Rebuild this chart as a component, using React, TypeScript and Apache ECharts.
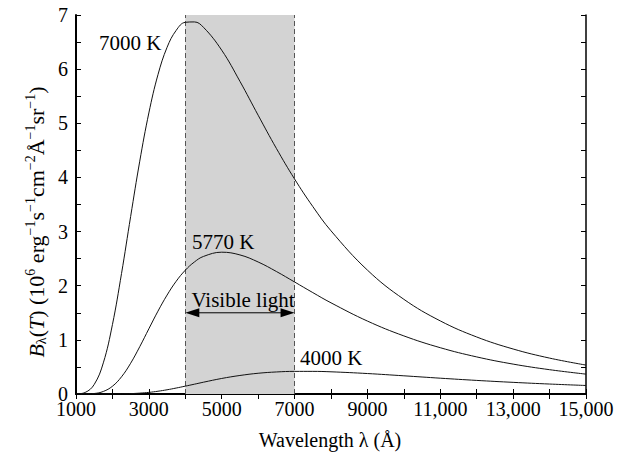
import React, { useEffect, useRef } from 'react';
import * as echarts from 'echarts';

// Wavelength samples (Å)
const wavelengths = [
  1000, 1250, 1500, 1750, 2000, 2250, 2500, 2750, 3000, 3250, 3500, 3750, 4000, 4250, 4500,
  5000, 5500, 6000, 6500, 7000, 7500, 8000, 9000, 10000, 11000, 12000, 13000, 14000, 15000,
];
// B_lambda(T) in 10^6 erg s^-1 cm^-2 Å^-1 sr^-1
const t7000 = [
  0.001, 0.028, 0.176, 0.575, 1.281, 2.227, 3.279, 4.3, 5.191, 5.897, 6.403, 6.716, 6.865, 6.872, 6.772,
  6.35, 5.775, 5.149, 4.537, 3.971, 3.463, 3.014, 2.288, 1.749, 1.35, 1.053, 0.831, 0.663, 0.534,
];
const t5770 = [
  0, 0.001, 0.009, 0.047, 0.143, 0.318, 0.568, 0.874, 1.204, 1.53, 1.827, 2.082, 2.286, 2.438, 2.541,
  2.619, 2.569, 2.438, 2.263, 2.069, 1.873, 1.684, 1.347, 1.073, 0.855, 0.685, 0.552, 0.449, 0.367,
];
const t4000 = [
  0, 0, 0, 0, 0.001, 0.002, 0.007, 0.016, 0.03, 0.051, 0.078, 0.11, 0.145, 0.181, 0.218,
  0.287, 0.342, 0.383, 0.407, 0.418, 0.418, 0.41, 0.378, 0.336, 0.292, 0.251, 0.215, 0.184, 0.157,
];
const visibleBand = [4000, 7000];
const arrowLevel = 1.5;
const xRange = [1000, 15000];
const yRange = [0, 7];

const FAM = '"Liberation Serif", "Times New Roman", Times, serif';
const font = (size: number, style = '') => `${style ? style + ' ' : ''}${size}px ${FAM}`;

export default function App() {
  const ref = useRef<HTMLDivElement>(null);

  useEffect(() => {
    if (!ref.current) return;
    const chart = echarts.init(ref.current, null, { renderer: 'svg' });

    const toPairs = (ys: number[]) => wavelengths.map((x, i) => [x, ys[i]]);
    const curve = (name: string, ys: number[]) => ({
      type: 'line',
      name,
      data: toPairs(ys),
      symbol: 'none',
      smooth: 0.4,
      z: 5,
      silent: true,
      lineStyle: { color: '#111', width: 1 },
    });

    const axisLineStyle = (w: number) => ({ show: true, lineStyle: { color: '#000', width: w } });
    const tick = { show: true, inside: true, length: 5, lineStyle: { color: '#000', width: 1 } };

    const xFmt = (v: number) => {
      const k = Math.round(v / 1000);
      if (k % 2 !== 1) return '';
      return k >= 10 ? `${k},000` : String(v);
    };
    const yFmt = (v: number) => (Math.abs(v - Math.round(v)) < 1e-9 ? String(Math.round(v)) : '');

    const option: any = {
      animation: false,
      backgroundColor: '#fff',
      grid: { left: 76, right: 37, top: 15, bottom: 64, containLabel: false },
      xAxis: [
        {
          type: 'value', min: xRange[0], max: xRange[1], interval: 1000, position: 'bottom',
          axisLine: axisLineStyle(2), axisTick: tick, splitLine: { show: false },
          axisLabel: { formatter: xFmt, color: '#000', fontFamily: FAM, fontSize: 20, lineHeight: 14, margin: 8 },
        },
        {
          type: 'value', min: xRange[0], max: xRange[1], interval: 1000, position: 'top',
          axisLine: axisLineStyle(1.5), axisTick: tick, splitLine: { show: false },
          axisLabel: { show: false },
        },
      ],
      yAxis: [
        {
          type: 'value', min: yRange[0], max: yRange[1], interval: 0.5, position: 'left',
          axisLine: axisLineStyle(2), axisTick: tick, splitLine: { show: false },
          axisLabel: { formatter: yFmt, color: '#000', fontFamily: FAM, fontSize: 20, lineHeight: 14, margin: 8 },
        },
        {
          type: 'value', min: yRange[0], max: yRange[1], interval: 0.5, position: 'right',
          axisLine: axisLineStyle(1.5), axisTick: tick, splitLine: { show: false },
          axisLabel: { show: false },
        },
      ],
      series: [
        {
          type: 'line',
          name: 'band',
          data: [[visibleBand[0], 0]],
          symbol: 'none',
          lineStyle: { opacity: 0 },
          z: 1,
          silent: true,
          markArea: {
            silent: true,
            itemStyle: { color: '#d3d3d3' },
            data: [[{ xAxis: visibleBand[0] }, { xAxis: visibleBand[1] }]],
          },
          markLine: {
            silent: true,
            symbol: 'none',
            label: { show: false },
            lineStyle: { color: '#555', type: [5, 3], width: 1 },
            data: [{ xAxis: visibleBand[0] }, { xAxis: visibleBand[1] }],
          },
        },
        curve('7000 K', t7000),
        curve('5770 K', t5770),
        curve('4000 K', t4000),
      ],
    };
    chart.setOption(option);

    const p1 = chart.convertToPixel({ gridIndex: 0 }, [visibleBand[0], arrowLevel]) as number[];
    const p2 = chart.convertToPixel({ gridIndex: 0 }, [visibleBand[1], arrowLevel]) as number[];
    const ay = p1[1];
    const hl = 14;
    const hw = 4.5;

    const label = (text: string, x: number, y: number, align = 'left', size = 20) => ({
      type: 'text',
      x,
      y,
      z: 20,
      silent: true,
      style: { text, fill: '#000', font: font(size), align, verticalAlign: 'middle' },
    });

    const yTitle =
      '{i|B}{sub|λ}{n|(}{i|T}{n|) (10}{sup|6}{n| erg}{sup|−1}{n|s}{sup|−1}{n|cm}{sup|−2}{n|Å}{sup|−1}{n|sr}{sup|−1}{n|)}';

    chart.setOption({
      graphic: [
        {
          type: 'line', z: 20, silent: true,
          shape: { x1: p1[0] + 8, y1: ay, x2: p2[0] - 8, y2: ay },
          style: { stroke: '#000', lineWidth: 1 },
        },
        {
          type: 'polygon', z: 20, silent: true,
          shape: { points: [[p1[0], ay], [p1[0] + hl, ay - hw], [p1[0] + hl, ay + hw]] },
          style: { fill: '#000' },
        },
        {
          type: 'polygon', z: 20, silent: true,
          shape: { points: [[p2[0], ay], [p2[0] - hl, ay - hw], [p2[0] - hl, ay + hw]] },
          style: { fill: '#000' },
        },
        label('7000 K', 99, 43, 'left', 21),
        label('5770 K', 192, 242, 'left', 21),
        label('Visible light', 243, 300, 'center', 21),
        label('4000 K', 300, 358, 'left', 21),
        label('Wavelength λ (Å)', 330, 440, 'center', 20),
        {
          type: 'text',
          x: 36,
          y: 222,
          rotation: Math.PI / 2,
          z: 20,
          silent: true,
          style: {
            text: yTitle,
            fill: '#000',
            font: font(22),
            align: 'center',
            verticalAlign: 'middle',
            rich: {
              n: { fill: '#000', font: font(22), lineHeight: 26 },
              i: { fill: '#000', font: font(22, 'italic'), lineHeight: 26 },
              sup: { fill: '#000', font: font(14), lineHeight: 14, padding: [0, 0, 12, 0] },
              sub: { fill: '#000', font: font(14), lineHeight: 14, padding: [10, 0, 0, 0] },
            },
          },
        },
      ],
    });

    return () => chart.dispose();
  }, []);

  return (
    <div
      ref={ref}
      style={{ position: 'fixed', left: 0, top: 0, width: 623, height: 458, background: '#fff' }}
    />
  );
}
